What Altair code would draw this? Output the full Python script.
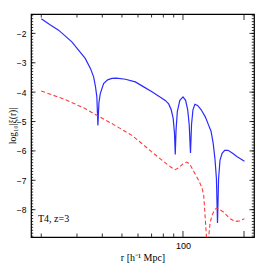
import altair as alt
import pandas as pd

# ---- data ----
blue_r = [20, 22, 24.35, 28.3, 32.95, 35, 36.25, 37.0, 37.6, 38.05, 38.5, 39.1, 40.6, 42.5,
          44.6, 47, 52, 58.2, 64, 70.3, 76, 81.8, 85, 87.5, 89.5, 90.8, 91.6, 92.4, 93.8,
          96.5, 100, 103, 105.5, 107.3, 108.9, 110.2, 112, 114.5, 118, 123, 129, 133,
          137.5, 141, 143.9, 146.2, 148, 149.8, 152.3, 156, 160.5, 166.8, 175, 185, 201]
blue_v = [-1.50, -1.70, -1.89, -2.29, -2.85, -3.2, -3.48, -3.8, -4.16, -5.13, -4.35, -4.05,
          -3.71, -3.58, -3.53, -3.52, -3.56, -3.65, -3.82, -3.99, -4.14, -4.28, -4.40, -4.6,
          -4.9, -5.4, -6.12, -5.3, -4.65, -4.28, -4.16, -4.28, -4.6, -5.1, -6.07, -5.1, -4.6,
          -4.41, -4.45, -4.6, -4.85, -5.08, -5.33, -5.75, -6.3, -6.95, -8.45, -6.95, -6.31,
          -6.08, -5.98, -5.98, -6.07, -6.2, -6.35]

red_r = [20, 26.2, 32.95, 38.3, 44.6, 50, 56, 63, 70.3, 80, 87, 91.6, 95, 100, 104.6, 108,
         112, 119.5, 124, 126.5, 128.5, 130.5, 132.4, 134, 136, 139, 143, 147, 152, 159,
         170, 181, 190, 201]
red_v = [-3.96, -4.25, -4.56, -4.82, -5.07, -5.27, -5.47, -5.76, -6.04, -6.35, -6.55, -6.64,
         -6.58, -6.44, -6.38, -6.45, -6.65, -7.0, -7.25, -7.5, -8.2, -8.9, -9.6, -8.9, -8.45,
         -8.2, -8.0, -7.94, -8.0, -8.09, -8.3, -8.40, -8.38, -8.31]

x_major_ticks = [100, 200]
x_minor_ticks = [20, 30, 40, 50, 60, 70, 80, 90]
y_major_ticks = [-8, -7, -6, -5, -4, -3, -2]
y_minor_ticks = [round(-8.9 + 0.1 * i, 1) for i in range(76)]

label_text = "T4, z=3"

W, H = 223, 223
xscale = alt.Scale(type="log", domain=[17.8, 224], nice=False)
yscale = alt.Scale(domain=[-8.93, -1.34], nice=False, zero=False)

df_blue = pd.DataFrame({"r": blue_r, "v": blue_v})
df_red = pd.DataFrame({"r": red_r, "v": red_v})

xaxis = alt.Axis(values=[100], format="d", ticks=False, domain=False, grid=False,
                 labelFont="Liberation Sans", labelFontSize=9, labelPadding=4,
                 labelColor="black",
                 title="r [h⁻¹ Mpc]", titleFont="Liberation Serif", titleFontSize=10,
                 titleFontWeight="normal", titleColor="black",
                 titleY=20, titleBaseline="middle")
yaxis = alt.Axis(values=y_major_ticks, format="d", ticks=False, domain=False, grid=False,
                 labelFont="Liberation Sans", labelFontSize=8.5, labelPadding=5,
                 labelColor="black",
                 title="log₁₀|ξ(r)|", titleFont="Liberation Serif", titleFontSize=9.5,
                 titleFontWeight="normal", titleColor="black",
                 titleX=-15.5, titleY=H / 2, titleAngle=270, titleAlign="center",
                 titleBaseline="alphabetic")

X = alt.X("r:Q", scale=xscale, axis=xaxis)
Y = alt.Y("v:Q", scale=yscale, axis=yaxis)

blue = alt.Chart(df_blue).mark_line(color="#2b2bff", strokeWidth=1.2, clip=True).encode(
    x=X, y=Y)
red = alt.Chart(df_red).mark_line(color="#ff3b3b", strokeWidth=1.1, strokeDash=[4, 2.5],
                                  clip=True).encode(x=X, y=Y)


def yticks(vals, length, side):
    x0, x1 = (0, length) if side == "left" else (W - length, W)
    return alt.Chart(pd.DataFrame({"v": vals})).mark_rule(
        color="black", strokeWidth=0.8).encode(
        y=Y, x=alt.value(x0), x2=alt.value(x1))


def xticks(vals, length, side):
    y0, y1 = (H, H - length) if side == "bottom" else (0, length)
    return alt.Chart(pd.DataFrame({"r": vals})).mark_rule(
        color="black", strokeWidth=0.8).encode(
        x=X, y=alt.value(y0), y2=alt.value(y1))


ticks = [
    yticks(y_minor_ticks, 2.2, "left"), yticks(y_major_ticks, 4.5, "left"),
    yticks(y_minor_ticks, 2.2, "right"), yticks(y_major_ticks, 4.5, "right"),
    xticks(x_minor_ticks, 3.5, "bottom"), xticks(x_major_ticks, 6, "bottom"),
    xticks(x_minor_ticks, 3.5, "top"), xticks(x_major_ticks, 6, "top"),
]

text = alt.Chart(pd.DataFrame({"label": [label_text]})).mark_text(
    align="left", baseline="middle", font="Liberation Serif", fontSize=10,
    color="black").encode(x=alt.value(7), y=alt.value(205), text="label:N")

chart = alt.layer(blue, red, *ticks, text).properties(
    width=W, height=H,
    autosize=alt.AutoSizeParams(type="none"),
    padding={"left": 23, "top": 6, "right": 4, "bottom": 27},
).configure_view(stroke="black", strokeWidth=1.2)

chart.save("out.html", embed_options={"renderer": "svg", "actions": False})
